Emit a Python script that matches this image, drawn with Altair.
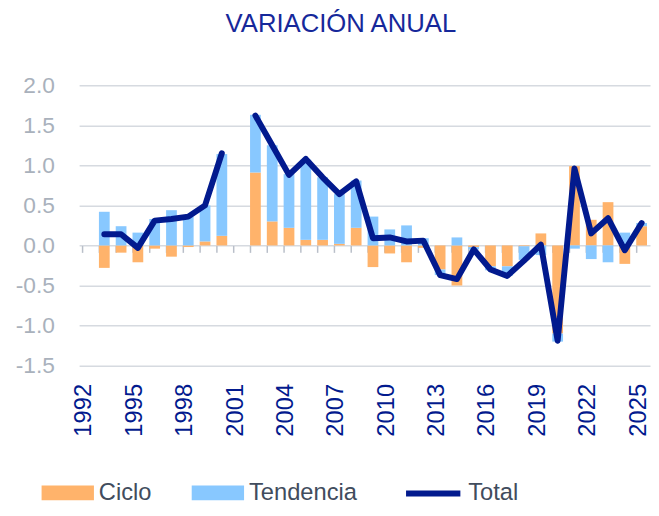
import altair as alt
import pandas as pd

# ---- data ----
years = list(range(1992, 2026))
ciclo = [None, -0.28, -0.09, -0.21, -0.04, -0.14, -0.02, 0.05, 0.12, None,
         0.91, 0.30, 0.22, 0.07, 0.07, 0.02, 0.22, -0.27, -0.10, -0.21,
         -0.03, -0.30, -0.50, -0.02, -0.26, -0.26, -0.01, 0.15, -1.10, 0.99,
         0.32, 0.54, -0.23, 0.24]
tendencia = [None, 0.42, 0.24, 0.16, 0.33, 0.44, 0.36, 0.45, 1.02, None,
             0.72, 0.95, 0.67, 1.00, 0.78, 0.62, 0.59, 0.36, 0.20, 0.25,
             0.09, -0.07, 0.10, -0.03, -0.05, -0.12, -0.17, -0.12, -0.10, -0.04,
             -0.17, -0.21, 0.16, 0.04]
total = [None, 0.14, 0.14, -0.03, 0.31, 0.33, 0.36, 0.50, 1.15, None,
         1.62, 1.25, 0.88, 1.08, 0.85, 0.64, 0.80, 0.09, 0.10, 0.05,
         0.06, -0.37, -0.42, -0.05, -0.30, -0.38, -0.19, 0.01, -1.19, 0.96,
         0.15, 0.34, -0.06, 0.28]
label_years = [1992, 1995, 1998, 2001, 2004, 2007, 2010, 2013, 2016, 2019, 2022, 2025]
y_ticks = [-1.5, -1.0, -0.5, 0.0, 0.5, 1.0, 1.5, 2.0]

ORANGE = "#FFB36B"
BLUE = "#88C8FF"
NAVY = "#021A8E"
TITLE_NAVY = "#16289A"
GREY_LABEL = "#A9B1BC"
LEGEND_TXT = "#414C5D"
GRID = "#D6DAE0"
FONT = "Liberation Sans"

bar_rows = []
for y, c, t in zip(years, ciclo, tendencia):
    if c is not None:
        bar_rows.append({"year": y, "serie": "Ciclo", "valor": c, "orden": 0})
    if t is not None:
        bar_rows.append({"year": y, "serie": "Tendencia", "valor": t, "orden": 1})
bars_df = pd.DataFrame(bar_rows)

line_rows = []
for y, v in zip(years, total):
    if v is not None:
        line_rows.append({"year": y, "serie": "Total", "valor": v,
                          "tramo": "A" if y < 2001 else "B"})
line_df = pd.DataFrame(line_rows)

xscale = alt.Scale(domain=years, paddingInner=0.36, paddingOuter=0.18)
yscale = alt.Scale(domain=[-1.5, 2.0], nice=False, zero=False)

bars = alt.Chart(bars_df).mark_bar().encode(
    x=alt.X("year:O", scale=xscale,
            axis=alt.Axis(values=label_years, orient="bottom", labelAngle=270,
                          labelFontSize=24, labelColor=NAVY, labelPadding=18,
                          labelOffset=-3, labelFont=FONT, ticks=False, tickSize=0,
                          domain=False, grid=False, title=None)),
    y=alt.Y("valor:Q", stack="zero", scale=yscale,
            axis=alt.Axis(values=y_ticks,
                          labelExpr="(datum.value < 0 ? '-' : '') + format(abs(datum.value), '.1f')",
                          grid=True, gridColor=GRID, gridWidth=1.5, domain=False,
                          ticks=False, labelPadding=25, labelFontSize=23,
                          labelColor=GREY_LABEL, labelFont=FONT, title=None)),
    color=alt.Color("serie:N",
                    scale=alt.Scale(domain=["Ciclo", "Tendencia"], range=[ORANGE, BLUE]),
                    legend=alt.Legend(title=None, orient="none", legendX=-38, legendY=386,
                                      direction="horizontal",
                                      symbolType="M-1,-0.28H1V0.28H-1Z", symbolSize=2809,
                                      symbolStrokeWidth=0, labelFontSize=24,
                                      labelColor=LEGEND_TXT, labelFont=FONT,
                                      labelOffset=5, columnPadding=40, padding=0)),
    order=alt.Order("orden:Q"),
)

line = alt.Chart(line_df).mark_line(strokeWidth=6, strokeCap="round", strokeJoin="round").encode(
    x=alt.X("year:O", scale=xscale,
            axis=alt.Axis(orient="bottom", offset=-121.7, labels=False, domain=False,
                          ticks=True, tickSize=7, tickColor="#B9BFC9", tickWidth=1.5,
                          bandPosition=0, grid=False, title=None)),
    y=alt.Y("valor:Q", scale=yscale),
    stroke=alt.Stroke("serie:N",
                      scale=alt.Scale(domain=["Total"], range=[NAVY]),
                      legend=alt.Legend(title=None, orient="none", legendX=328, legendY=383,
                                        symbolType="stroke", symbolSize=3025,
                                        symbolStrokeWidth=6, labelFontSize=24,
                                        labelColor=LEGEND_TXT, labelFont=FONT,
                                        labelOffset=5, padding=0)),
    detail="tramo:N",
)

chart = alt.layer(bars, line).resolve_axis(x="independent").properties(
    width=578,
    height=284,
    title=alt.TitleParams(text="VARIACIÓN ANUAL", fontSize=26, font=FONT,
                          fontWeight="normal", color=TITLE_NAVY, anchor="middle",
                          frame="group", dx=-24, offset=38),
    padding={"left": 72, "top": 75, "right": 1, "bottom": 141},
    autosize=alt.AutoSizeParams(type="none"),
).configure_view(stroke=None)

chart.save("out.html", embed_options={"renderer": "svg", "actions": False})
